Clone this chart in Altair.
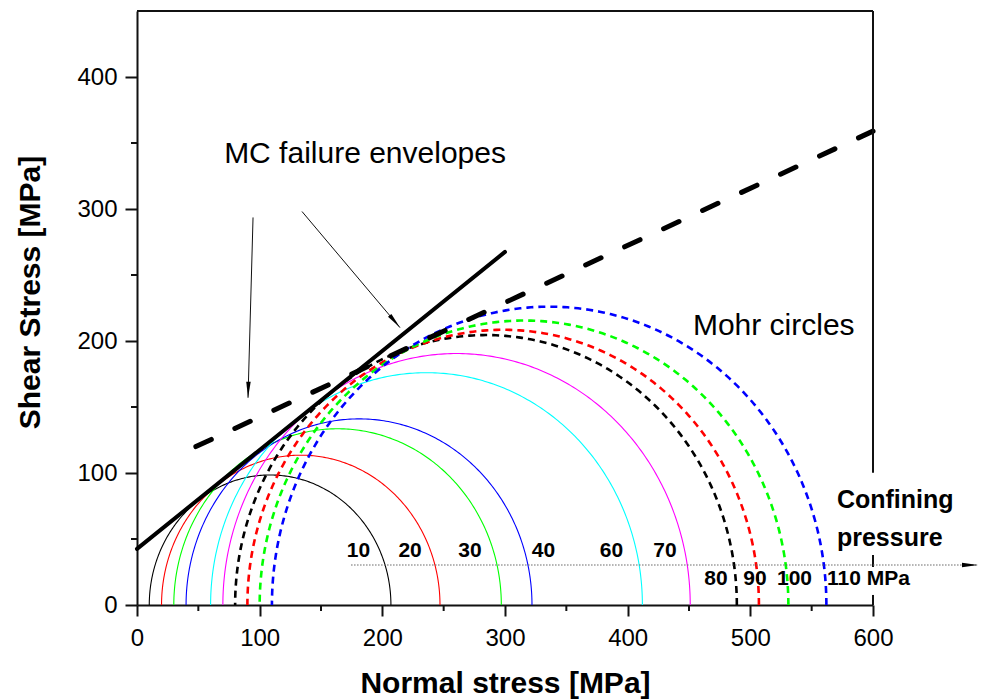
import altair as alt
import numpy as np
import pandas as pd

# ---------------- data ----------------
confining = [10, 20, 30, 40, 60, 70, 80, 90, 100, 110]          # sigma3 [MPa]
sigma1 = [207, 247, 297, 322, 412, 451, 489, 507, 531, 562]      # sigma1 [MPa]
circle_colors = ["#000000", "#ff0000", "#00ff00", "#0000ff", "#00ffff",
                 "#ff00ff", "#000000", "#ff0000", "#00ff00", "#0000ff"]
circle_dashed = [False, False, False, False, False, False, True, True, True, True]

env_solid_sigma = [0, 300]
env_solid_tau = [42.5, 267.5]
env_dash_sigma = [48, 600]
env_dash_tau = [120, 359]

x_ticks = [0, 100, 200, 300, 400, 500, 600]
y_ticks = [0, 100, 200, 300, 400]
x_minor = [50, 150, 250, 350, 450, 550]
y_minor = [50, 150, 250, 350]

# annotation texts and anchors (data units)
upper_labels = ["10", "20", "30", "40", "60", "70"]
upper_label_x = [180.6, 222.6, 271.5, 331.4, 386.8, 430.4]
upper_label_y = [41.0] * 6
lower_labels = ["80", "90", "100", "110 MPa"]
lower_label_x = [472.0, 503.8, 536.0, 596.3]
lower_label_y = [19.7] * 4
conf_text = ["Confining", "pressure"]
conf_x = [570.6, 570.6]
conf_y = [79.6, 50.8]

# arrows: start -> tip
arrow_x0 = [94.6, 134.5]
arrow_y0 = [293.6, 298.1]
arrow_x1 = [90.5, 214.4]
arrow_y1 = [157.0, 210.1]
head_x = [90.7, 210.2, 679.1]
head_y = [163.1, 214.8, 30.3]
head_angle = [181.6, 139.8, 90]

axis_line_x = [174.5, 685.6]
axis_line_y = [30.3]

FONT = "Liberation Sans"

# ---------------- tables ----------------
rows = []
for i, (s3, s1) in enumerate(zip(confining, sigma1)):
    c = (s1 + s3) / 2.0
    r = (s1 - s3) / 2.0
    for k, t in enumerate(np.linspace(0, np.pi, 241)):
        rows.append(dict(id=i, k=k, x=c + r * np.cos(t), y=r * np.sin(t),
                         color=circle_colors[i], dashed=circle_dashed[i]))
circ = pd.DataFrame(rows)

xs = alt.Scale(domain=[0, 600], nice=False, zero=False)
ys = alt.Scale(domain=[0, 450], nice=False, zero=False)

x_axis = alt.Axis(values=x_ticks, title="Normal stress [MPa]", grid=False,
                  tickSize=11, tickWidth=2, tickColor="#111", domainColor="#111",
                  domainWidth=2, labelFont=FONT, labelFontSize=24, labelColor="#000",
                  labelPadding=10, labelFlush=False, labelOverlap=False,
                  titleFont=FONT, titleFontSize=30, titleFontWeight="bold",
                  titleColor="#000", titleX=368, titleY=78, titleBaseline="middle",
                  titleAlign="center")
y_axis = alt.Axis(values=y_ticks, title="Shear Stress [MPa]", grid=False,
                  tickSize=12, tickWidth=2, tickColor="#111", domainColor="#111",
                  domainWidth=2, labelFont=FONT, labelFontSize=24, labelColor="#000",
                  labelPadding=8, labelFlush=False, labelOverlap=False,
                  titleFont=FONT, titleFontSize=30, titleFontWeight="bold",
                  titleColor="#000", titleX=-107, titleY=281, titleAngle=270,
                  titleBaseline="middle", titleAlign="center")


def X(field):
    return alt.X(field, type="quantitative", scale=xs, axis=x_axis)


def Y(field):
    return alt.Y(field, type="quantitative", scale=ys, axis=y_axis)


solid_circles = alt.Chart(circ[~circ["dashed"]]).mark_line(strokeWidth=1.1).encode(
    x=X("x"), y=Y("y"), detail="id:N", order="k:Q",
    color=alt.Color("color:N", scale=None))

dashed_circles = alt.Chart(circ[circ["dashed"]]).mark_line(
    strokeWidth=2.6, strokeDash=[7, 5]).encode(
    x=X("x"), y=Y("y"), detail="id:N", order="k:Q",
    color=alt.Color("color:N", scale=None))

env_solid = alt.Chart(pd.DataFrame({"x": env_solid_sigma, "y": env_solid_tau})).mark_line(
    color="#000", strokeWidth=4, strokeCap="round").encode(x=X("x"), y=Y("y"))

env_dash = alt.Chart(pd.DataFrame({"x": env_dash_sigma, "y": env_dash_tau})).mark_line(
    color="#000", strokeWidth=5, strokeDash=[17, 26], strokeCap="round").encode(
    x=X("x"), y=Y("y"))

border_top = alt.Chart(pd.DataFrame({"x": [0], "x2": [600], "y": [450]})).mark_rule(
    color="#111", strokeWidth=2).encode(x=X("x"), x2="x2", y=Y("y"))
border_right = alt.Chart(pd.DataFrame({"x": [600], "y": [0], "y2": [450]})).mark_rule(
    color="#111", strokeWidth=2).encode(x=X("x"), y=Y("y"), y2="y2")

x_minor_ticks = alt.Chart(pd.DataFrame({"x": x_minor})).mark_rule(
    color="#111", strokeWidth=2).encode(x=X("x"), y=alt.value(594), y2=alt.value(600))
y_minor_ticks = alt.Chart(pd.DataFrame({"y": y_minor})).mark_rule(
    color="#111", strokeWidth=2).encode(y=Y("y"), x=alt.value(0), x2=alt.value(-6))

white_boxes = alt.Chart(pd.DataFrame({"x": [565.7, 588.0], "x2": [660.3, 612.0],
                                      "y": [37.9, 7.6], "y2": [100.1, 28.8]})).mark_rect(
    fill="white").encode(x=X("x"), x2="x2", y=Y("y"), y2="y2")

dotted = alt.Chart(pd.DataFrame({"x": [axis_line_x[0]], "x2": [axis_line_x[1]],
                                 "y": axis_line_y})).mark_rule(
    color="#666", strokeWidth=1, strokeDash=[1.5, 1.5]).encode(x=X("x"), x2="x2", y=Y("y"))

arrows = alt.Chart(pd.DataFrame({"x": arrow_x0, "y": arrow_y0, "x2": arrow_x1,
                                 "y2": arrow_y1})).mark_rule(
    color="#111", strokeWidth=1).encode(x=X("x"), y=Y("y"), x2="x2", y2="y2")

heads = alt.Chart(pd.DataFrame({"x": head_x, "y": head_y, "a": head_angle})).mark_point(
    shape="M0,-1L0.28,1L-0.28,1Z", filled=True, color="#000", size=256, opacity=1).encode(
    x=X("x"), y=Y("y"), angle=alt.Angle("a:Q", scale=None))

t_upper = alt.Chart(pd.DataFrame({"x": upper_label_x, "y": upper_label_y,
                                  "t": upper_labels})).mark_text(
    font=FONT, fontSize=21, fontWeight="bold", align="center", baseline="middle",
    color="#000").encode(x=X("x"), y=Y("y"), text="t:N")
t_lower = alt.Chart(pd.DataFrame({"x": lower_label_x, "y": lower_label_y,
                                  "t": lower_labels})).mark_text(
    font=FONT, fontSize=21, fontWeight="bold", align="center", baseline="middle",
    color="#000").encode(x=X("x"), y=Y("y"), text="t:N")
t_conf = alt.Chart(pd.DataFrame({"x": conf_x, "y": conf_y, "t": conf_text})).mark_text(
    font=FONT, fontSize=25, fontWeight="bold", align="left", baseline="middle",
    color="#000").encode(x=X("x"), y=Y("y"), text="t:N")
t_mohr = alt.Chart(pd.DataFrame({"x": [453.2], "y": [211.6], "t": ["Mohr circles"]})).mark_text(
    font=FONT, fontSize=30, align="left", baseline="middle", color="#000").encode(
    x=X("x"), y=Y("y"), text="t:N")
t_mc = alt.Chart(pd.DataFrame({"x": [185.9], "y": [341.4], "t": ["MC failure envelopes"]})).mark_text(
    font=FONT, fontSize=30, align="center", baseline="middle", color="#000").encode(
    x=X("x"), y=Y("y"), text="t:N")

chart = alt.layer(
    solid_circles, dashed_circles, env_solid, env_dash,
    border_top, border_right, x_minor_ticks, y_minor_ticks,
    white_boxes, dotted, arrows, heads,
    t_upper, t_lower, t_conf, t_mohr, t_mc,
).properties(
    width=736, height=594,
    autosize=alt.AutoSizeParams(type="none"),
    padding={"left": 137, "top": 11, "right": 109, "bottom": 95},
    background="white",
).configure_view(stroke=None)

chart.save("out.html", embed_options={"renderer": "svg", "actions": False})
